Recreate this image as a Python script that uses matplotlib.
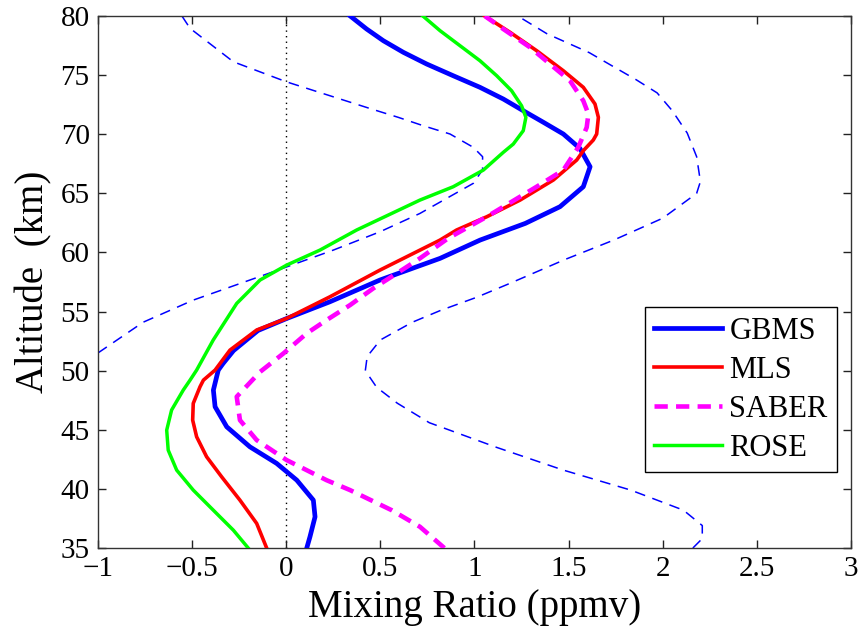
import matplotlib
matplotlib.use("Agg")
import matplotlib.pyplot as plt

# GBMS profile (altitude in km, mixing ratio in ppmv)
gbms_alt = [35.0, 35.95, 37.64, 39.05, 40.74, 42.16, 43.56, 45.25, 46.95, 48.36, 50.05, 50.62,
            51.7, 53.4, 54.4, 55.83, 57.67, 59.5, 61.05, 62.46, 63.87, 65.56, 67.25, 68.8,
            70.02, 71.01, 71.99, 72.98, 73.97, 74.95, 75.94, 76.93, 77.91, 78.9, 80.0]
gbms_val = [0.109, 0.126, 0.153, 0.144, 0.056, -0.051, -0.193, -0.316, -0.378, -0.387, -0.361,
            -0.335, -0.28, -0.15, 0.0, 0.232, 0.498, 0.817, 1.03, 1.27, 1.454, 1.578, 1.614,
            1.56, 1.472, 1.366, 1.259, 1.153, 1.029, 0.887, 0.746, 0.622, 0.516, 0.427, 0.34]

# GBMS error envelope
gbms_lo_alt = [51.5, 54.1, 55.97, 58.37, 60.2, 61.75, 63.3, 65.85, 67.0, 68.1, 68.89, 70.02,
               70.72, 71.43, 72.13, 73.12, 74.44, 76.13, 78.96, 80.0]
gbms_lo_val = [-1.0, -0.76, -0.494, -0.069, 0.25, 0.498, 0.71, 0.994, 1.043, 1.043, 0.994,
               0.87, 0.728, 0.595, 0.454, 0.259, 0.0, -0.281, -0.511, -0.554]
gbms_hi_alt = [35.0, 35.8, 36.9, 38.2, 39.9, 41.6, 43.5, 45.6, 47.25, 48.6, 50.0, 51.2, 52.6,
               54.1, 55.1, 56.2, 57.4, 59.4, 61.05, 62.9, 65.0, 66.0, 68.1, 70.1, 72.0, 73.5,
               74.6, 75.7, 76.9, 78.5, 80.0]
gbms_hi_val = [2.16, 2.21, 2.21, 2.11, 1.83, 1.47, 1.12, 0.76, 0.59, 0.48, 0.42, 0.43, 0.50,
               0.67, 0.82, 1.01, 1.19, 1.48, 1.74, 2.0, 2.18, 2.20, 2.18, 2.13, 2.05, 1.97,
               1.86, 1.74, 1.61, 1.385, 1.23]

# MLS profile
mls_alt = [35.0, 37.08, 39.05, 41.02, 42.72, 44.41, 45.82, 47.23, 48.64, 49.2, 50.05, 51.74,
           53.44, 54.42, 56.25, 58.51, 61.05, 61.9, 63.02, 64.43, 66.13, 67.82, 68.61, 69.51,
           70.02, 71.43, 72.56, 73.97, 75.37, 77.07, 78.62, 80.0]
mls_val = [-0.104, -0.157, -0.246, -0.343, -0.423, -0.476, -0.497, -0.494, -0.458, -0.44,
           -0.378, -0.299, -0.157, 0.002, 0.232, 0.498, 0.817, 0.905, 1.065, 1.242, 1.419,
           1.543, 1.578, 1.631, 1.649, 1.658, 1.640, 1.578, 1.472, 1.330, 1.189, 1.055]

# SABER profile
saber_alt = [35.0, 36.8, 38.2, 39.9, 40.74, 42.44, 44.13, 45.82, 47.8, 49.9, 51.46, 53.16,
             54.28, 55.55, 56.96, 58.23, 59.5, 61.2, 63.02, 65.56, 66.97, 68.89, 70.58, 71.71,
             72.83, 74.53, 75.94, 77.35, 78.9, 80.0]
saber_val = [0.84, 0.71, 0.56, 0.339, 0.214, 0.002, -0.157, -0.246, -0.263, -0.139, -0.015,
             0.109, 0.214, 0.339, 0.462, 0.587, 0.71, 0.86, 1.065, 1.33, 1.472, 1.551, 1.596,
             1.605, 1.578, 1.507, 1.401, 1.295, 1.153, 1.055]

# ROSE model profile
rose_alt = [35.0, 36.51, 38.21, 39.9, 41.59, 43.28, 44.97, 46.67, 48.36, 49.2, 50.05, 52.59,
            55.69, 57.67, 58.93, 60.2, 61.9, 64.43, 65.56, 66.97, 68.47, 69.17, 70.3, 71.43,
            72.41, 73.68, 74.95, 76.22, 77.49, 78.76, 80.0]
rose_val = [-0.202, -0.281, -0.388, -0.494, -0.582, -0.627, -0.635, -0.609, -0.547, -0.511,
            -0.476, -0.388, -0.263, -0.139, 0.002, 0.179, 0.374, 0.71, 0.887, 1.047, 1.153,
            1.206, 1.259, 1.273, 1.250, 1.197, 1.118, 1.029, 0.923, 0.817, 0.726]

x_ticks = [-1, -0.5, 0, 0.5, 1, 1.5, 2, 2.5, 3]
x_tick_labels = ["\u22121", "\u22120.5", "0", "0.5", "1", "1.5", "2", "2.5", "3"]
y_ticks = [35, 40, 45, 50, 55, 60, 65, 70, 75, 80]

plt.rcParams['font.family'] = 'serif'
plt.rcParams['font.serif'] = ['Liberation Serif', 'DejaVu Serif']

fig = plt.figure(figsize=(8.61, 6.31), dpi=100)
ax = fig.add_axes([0.1138, 0.1315, 0.8746, 0.8431])

# zero line
ax.axvline(0, color='black', linestyle=(0, (1, 3)), linewidth=1.0, zorder=1)

# envelope
ax.plot(gbms_lo_val, gbms_lo_alt, color='#0000ff', linestyle=(0, (7, 5)), linewidth=1.1, zorder=2)
ax.plot(gbms_hi_val, gbms_hi_alt, color='#0000ff', linestyle=(0, (7, 5)), linewidth=1.1, zorder=2)

ax.plot(gbms_val, gbms_alt, color='#0000ff', linewidth=3.4, label='GBMS', zorder=3)
ax.plot(mls_val, mls_alt, color='#ff0000', linewidth=2.6, label='MLS', zorder=4)
ax.plot(saber_val, saber_alt, color='#ff00ff', linewidth=3.3, linestyle=(0, (2.9, 1.8)),
        label='SABER', zorder=5)
ax.plot(rose_val, rose_alt, color='#00ff00', linewidth=2.5, label='ROSE', zorder=6)

ax.set_xlim(-1, 3)
ax.set_ylim(35, 80)
ax.set_xticks(x_ticks)
ax.set_xticklabels(x_tick_labels)
ax.set_yticks(y_ticks)
ax.tick_params(direction='in', length=6, width=1, top=True, right=True,
               labelsize=21, pad=6, colors='#222222', labelcolor='black')
for s in ax.spines.values():
    s.set_color('#333333')
    s.set_linewidth(1.0)

ax.set_xlabel('Mixing Ratio (ppmv)', fontsize=28, labelpad=5)
ax.set_ylabel('Altitude  (km)', fontsize=28, labelpad=6)

leg = ax.legend(loc='lower right', bbox_to_anchor=(0.981, 0.143), fontsize=22,
                frameon=True, fancybox=False, edgecolor='black', framealpha=1,
                handlelength=2.2, handletextpad=0.25, labelspacing=0.33,
                borderpad=0.3, borderaxespad=0)
leg.get_frame().set_linewidth(1.0)

fig.savefig('out.png', dpi=100)
